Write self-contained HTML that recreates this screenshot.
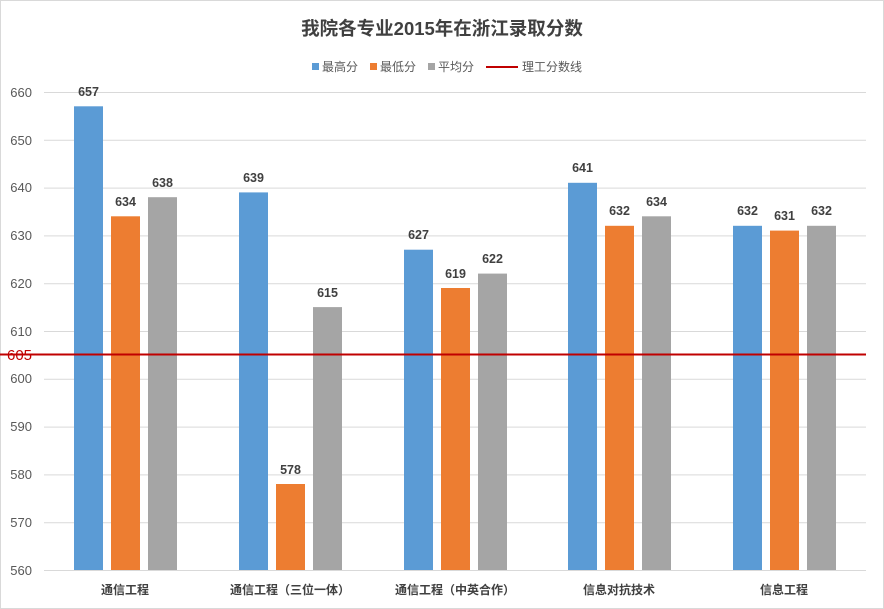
<!DOCTYPE html>
<html><head><meta charset="utf-8"><style>
html,body{margin:0;padding:0;background:#fff;}
svg{display:block;font-family:"Liberation Sans","Noto Sans CJK SC",sans-serif;}
</style></head><body>
<svg width="884" height="609" viewBox="0 0 884 609" xmlns="http://www.w3.org/2000/svg">
<rect x="0.5" y="0.5" width="883" height="608" fill="#fff" stroke="#d9d9d9"/>
<text x="442" y="35" text-anchor="middle" font-size="18.5" font-weight="bold" fill="#404040">我院各专业2015年在浙江录取分数</text>
<g font-size="12" fill="#595959">
<rect x="312" y="63" width="7" height="7" fill="#5b9bd5"/><text x="322" y="71">最高分</text>
<rect x="370" y="63" width="7" height="7" fill="#ed7d31"/><text x="380" y="71">最低分</text>
<rect x="428" y="63" width="7" height="7" fill="#a5a5a5"/><text x="438" y="71">平均分</text>
<line x1="486" y1="67" x2="518" y2="67" stroke="#c00000" stroke-width="2"/><text x="522" y="71">理工分数线</text>
</g>
<g stroke="#d9d9d9" stroke-width="1">
<line x1="44" x2="866" y1="92.5" y2="92.5"/><line x1="44" x2="866" y1="140.3" y2="140.3"/>
<line x1="44" x2="866" y1="188.1" y2="188.1"/><line x1="44" x2="866" y1="235.9" y2="235.9"/>
<line x1="44" x2="866" y1="283.7" y2="283.7"/><line x1="44" x2="866" y1="331.5" y2="331.5"/>
<line x1="44" x2="866" y1="379.3" y2="379.3"/><line x1="44" x2="866" y1="427.1" y2="427.1"/>
<line x1="44" x2="866" y1="474.9" y2="474.9"/><line x1="44" x2="866" y1="522.7" y2="522.7"/>
<line x1="44" x2="866" y1="570.5" y2="570.5"/>
</g>
<g font-size="13" fill="#595959" text-anchor="end">
<text x="32" y="97">660</text><text x="32" y="145">650</text><text x="32" y="192">640</text>
<text x="32" y="240">630</text><text x="32" y="288">620</text><text x="32" y="336">610</text>
<text x="32" y="383">600</text><text x="32" y="431">590</text><text x="32" y="479">580</text>
<text x="32" y="527">570</text><text x="32" y="575">560</text>
</g>
<g>
<rect x="74" y="106.3" width="29" height="463.7" fill="#5b9bd5"/>
<rect x="111" y="216.3" width="29" height="353.7" fill="#ed7d31"/>
<rect x="148" y="197.2" width="29" height="372.8" fill="#a5a5a5"/>
<rect x="239" y="192.4" width="29" height="377.6" fill="#5b9bd5"/>
<rect x="276" y="484" width="29" height="86" fill="#ed7d31"/>
<rect x="313" y="307.1" width="29" height="262.9" fill="#a5a5a5"/>
<rect x="404" y="249.7" width="29" height="320.3" fill="#5b9bd5"/>
<rect x="441" y="288" width="29" height="282" fill="#ed7d31"/>
<rect x="478" y="273.6" width="29" height="296.4" fill="#a5a5a5"/>
<rect x="568" y="182.8" width="29" height="387.2" fill="#5b9bd5"/>
<rect x="605" y="225.8" width="29" height="344.2" fill="#ed7d31"/>
<rect x="642" y="216.3" width="29" height="353.7" fill="#a5a5a5"/>
<rect x="733" y="225.8" width="29" height="344.2" fill="#5b9bd5"/>
<rect x="770" y="230.6" width="29" height="339.4" fill="#ed7d31"/>
<rect x="807" y="225.8" width="29" height="344.2" fill="#a5a5a5"/>
</g>
<g font-size="12.5" font-weight="bold" fill="#404040" text-anchor="middle">
<text x="88.5" y="96">657</text><text x="125.5" y="206">634</text><text x="162.5" y="187">638</text>
<text x="253.5" y="182">639</text><text x="290.5" y="474">578</text><text x="327.5" y="297">615</text>
<text x="418.5" y="239">627</text><text x="455.5" y="278">619</text><text x="492.5" y="263">622</text>
<text x="582.5" y="172">641</text><text x="619.5" y="215">632</text><text x="656.5" y="206">634</text>
<text x="747.5" y="215">632</text><text x="784.5" y="220">631</text><text x="821.5" y="215">632</text>
</g>
<line x1="0" x2="866" y1="354.5" y2="354.5" stroke="#c00000" stroke-width="2"/>
<text x="7" y="360" font-size="15" fill="#c00000">605</text>
<g font-size="12" font-weight="bold" fill="#404040" text-anchor="middle">
<text x="125" y="594">通信工程</text>
<text x="290" y="594">通信工程（三位一体）</text>
<text x="455" y="594">通信工程（中英合作）</text>
<text x="619" y="594">信息对抗技术</text>
<text x="784" y="594">信息工程</text>
</g>
</svg>
</body></html>
